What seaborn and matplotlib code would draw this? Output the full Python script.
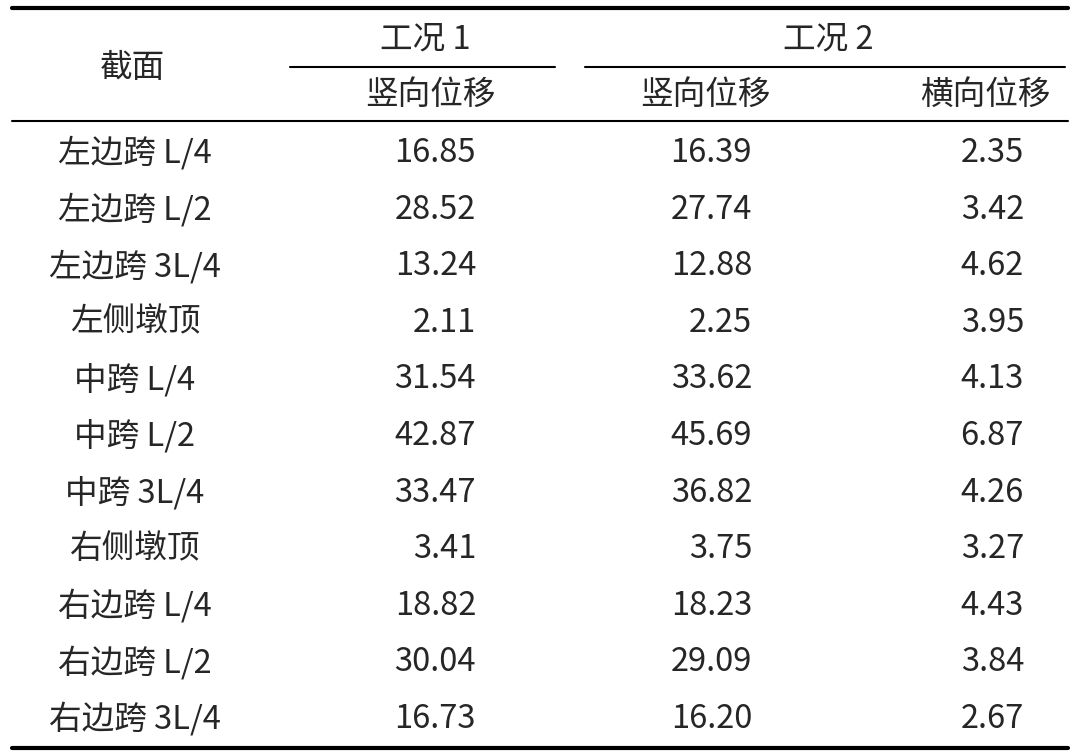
import matplotlib
matplotlib.use("Agg")
import matplotlib.pyplot as plt
import seaborn as sns

sections = ["左边跨 L/4", "左边跨 L/2", "左边跨 3L/4", "左侧墩顶", "中跨 L/4", "中跨 L/2",
            "中跨 3L/4", "右侧墩顶", "右边跨 L/4", "右边跨 L/2", "右边跨 3L/4"]
case1_vert = ["16.85", "28.52", "13.24", "2.11", "31.54", "42.87", "33.47", "3.41", "18.82", "30.04", "16.73"]
case2_vert = ["16.39", "27.74", "12.88", "2.25", "33.62", "45.69", "36.82", "3.75", "18.23", "29.09", "16.20"]
case2_horz = ["2.35", "3.42", "4.62", "3.95", "4.13", "6.87", "4.26", "3.27", "4.43", "3.84", "2.67"]

sns.set_theme(style="white")
plt.rcParams['font.family'] = ['Noto Sans CJK SC', 'DejaVu Sans']

W, H = 1077, 756
fig = plt.figure(figsize=(W/100, H/100), dpi=100)
ax = fig.add_axes([0, 0, 1, 1])
ax.set_xlim(0, W); ax.set_ylim(H, 0); ax.axis("off")

fs = 23.5
ax.plot([12, 1068], [8, 8], color="black", lw=3)
ax.plot([290, 555], [67, 67], color="black", lw=1.5)
ax.plot([585, 1065], [67, 67], color="black", lw=1.5)
ax.plot([12, 1068], [121, 121], color="black", lw=1.5)
ax.plot([12, 1068], [748, 748], color="black", lw=3)

ax.text(132, 68, "截面", fontsize=fs, ha="center", va="center")
ax.text(425, 40, "工况 1", fontsize=fs, ha="center", va="center")
ax.text(828, 40, "工况 2", fontsize=fs, ha="center", va="center")
ax.text(430, 95, "竖向位移", fontsize=fs, ha="center", va="center")
ax.text(705, 95, "竖向位移", fontsize=fs, ha="center", va="center")
ax.text(985, 95, "横向位移", fontsize=fs, ha="center", va="center")

for i, (s, a, b, c) in enumerate(zip(sections, case1_vert, case2_vert, case2_horz)):
    y = 153 + i * 56.6
    ax.text(135, y, s, fontsize=fs, ha="center", va="center")
    ax.text(476, y, a, fontsize=fs, ha="right", va="center")
    ax.text(752, y, b, fontsize=fs, ha="right", va="center")
    ax.text(1024, y, c, fontsize=fs, ha="right", va="center")

fig.savefig("out.png", dpi=100)
